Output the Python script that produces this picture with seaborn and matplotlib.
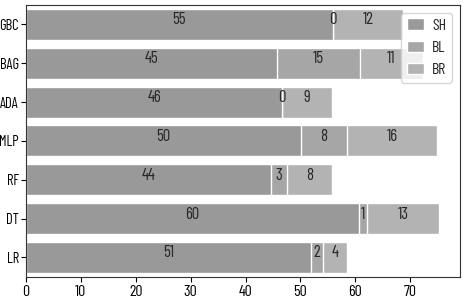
import matplotlib
matplotlib.use("Agg")
import matplotlib.pyplot as plt
import pandas as pd
import seaborn as sns

# Models, top to bottom
models = ["GBC", "BAG", "ADA", "MLP", "RF", "DT", "LR"]

# Segment widths
sh = [55.9, 45.7, 46.7, 50.1, 44.6, 60.7, 51.9]
bl = [0.1, 15.2, 0.0, 8.4, 3.0, 1.5, 2.2]
br = [12.7, 11.4, 9.0, 16.3, 8.2, 13.1, 4.3]

series = ["SH", "BL", "BR"]
colors = ["#999999", "#a6a6a6", "#b3b3b3"]

sns.set_style("ticks")
# narrow face so the squeezed labels of the original fit
plt.rcParams["font.family"] = ["Barlow Condensed", "Roboto Condensed", "DejaVu Sans"]
fs = 12

df = pd.DataFrame({"model": models, "SH": sh, "BL": bl, "BR": br})
df["SH+BL"] = df["SH"] + df["BL"]
df["total"] = df["SH+BL"] + df["BR"]

fig, ax = plt.subplots(figsize=(4.63, 3.06), dpi=100)

# stack by drawing cumulative totals on top of each other
sns.barplot(data=df, x="total", y="model", color=colors[2], saturation=1,
            width=0.8, ax=ax, label="BR")
sns.barplot(data=df, x="SH+BL", y="model", color=colors[1], saturation=1,
            width=0.8, ax=ax, label="BL")
sns.barplot(data=df, x="SH", y="model", color=colors[0], saturation=1,
            width=0.8, ax=ax, label="SH")

for i, row in df.iterrows():
    ax.text(row["SH"] / 2, i, str(int(row["SH"])), ha="center", fontsize=fs)
    ax.text(row["SH"] + row["BL"] / 2, i, str(int(row["BL"])), ha="center", fontsize=fs)
    ax.text(row["SH+BL"] + row["BR"] / 2, i, str(int(row["BR"])), ha="center", fontsize=fs)

ax.set_xlabel("")
ax.set_ylabel("")
ax.set_xlim(0, df["total"].max() * 1.05)
ax.set_xticks(range(0, 80, 10))
ax.tick_params(axis="x", labelsize=11.5, colors="black", length=3.5, pad=2)
ax.tick_params(axis="y", labelsize=10.5, colors="black", length=3.5, pad=1.5)
for s in ax.spines.values():
    s.set_visible(True)
    s.set_color("#333333")

handles, labels = ax.get_legend_handles_labels()
order = [labels.index(s) for s in series]
ax.legend([handles[k] for k in order], series, loc="upper right",
          fontsize=11.5, handlelength=1.1, handletextpad=0.5, borderpad=0.35,
          labelspacing=0.5, borderaxespad=0.5)

fig.subplots_adjust(left=0.056, right=0.9935, top=0.984, bottom=0.095)
fig.savefig("out.png", dpi=100)
